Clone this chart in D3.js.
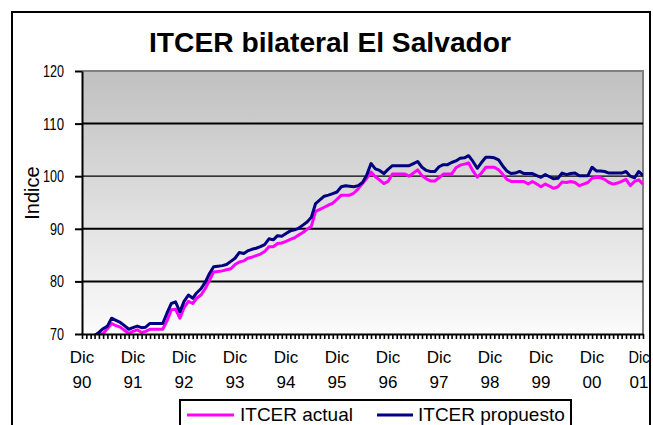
<!DOCTYPE html>
<html>
<head>
<meta charset="utf-8">
<script src="https://cdn.jsdelivr.net/npm/d3@7"></script>
<style>
  html, body { margin: 0; padding: 0; background: #fff; }
  svg { display: block; font-family: Arial, "Liberation Sans", sans-serif; }
</style>
</head>
<body>
<svg id="chart" width="653" height="425"></svg>
<script>
// Monthly series, Dec 1990 .. Dec 2001 (133 months)
const startYear = 1990, startMonth = 11; // December
const actual = [
  67.5, 68.0, 68.6, 69.2, 69.8, 70.1, 71.0, 72.0, 71.6, 71.3, 70.7, 70.1,
  70.5, 70.8, 70.3, 70.5, 70.9, 70.9, 70.9, 70.9, 72.5, 74.6, 74.7, 73.0,
  75.0, 76.2, 75.8, 76.8, 77.4, 78.6, 80.2, 81.8, 81.9, 82.0, 82.2, 82.4,
  83.2, 83.7, 83.9, 84.4, 84.6, 84.9, 85.2, 85.7, 86.6, 86.6, 87.2, 87.3,
  87.6, 88.0, 88.3, 88.8, 89.3, 89.9, 90.5, 93.3, 93.7, 94.1, 94.5, 94.9,
  95.6, 96.4, 96.4, 96.4, 96.8, 97.6, 98.6, 99.6, 100.8, 99.9, 99.3, 98.6,
  99.0, 100.4, 100.4, 100.4, 100.4, 100.0, 100.6, 101.2, 100.1, 99.5, 99.1, 99.1,
  99.7, 100.4, 100.4, 100.4, 101.6, 102.1, 102.3, 102.5, 101.0, 99.8, 100.6, 101.7,
  101.7, 101.7, 101.2, 100.4, 99.4, 99.0, 99.0, 99.0, 99.0, 98.5, 99.0, 98.5,
  98.0, 98.5, 98.1, 97.7, 98.0, 98.9, 98.8, 99.0, 98.8, 98.2, 98.5, 98.8,
  99.6, 99.8, 99.7, 99.4, 98.8, 98.5, 98.7, 99.0, 99.4, 98.2, 99.0, 99.3,
  98.5
];
const propuesto = [
  68.0, 68.6, 69.2, 69.7, 70.3, 71.0, 71.5, 73.0, 72.6, 72.2, 71.6, 70.9,
  71.2, 71.5, 71.2, 71.3, 72.0, 72.0, 72.0, 72.0, 74.0, 75.8, 76.1, 74.2,
  76.2, 77.4, 76.8, 77.8, 78.6, 79.8, 81.5, 82.8, 82.9, 83.0, 83.2, 83.8,
  84.4, 85.5, 85.3, 85.8, 86.1, 86.3, 86.6, 87.0, 88.1, 87.9, 88.7, 88.6,
  89.1, 89.6, 89.8, 90.1, 90.7, 91.3, 92.2, 94.8, 95.5, 96.2, 96.4, 96.7,
  97.0, 98.0, 98.2, 98.1, 98.0, 98.2, 98.8, 100.2, 102.4, 101.4, 101.1, 100.5,
  101.3, 102.0, 102.0, 102.0, 102.0, 102.0, 102.4, 102.8, 101.7, 101.1, 100.9, 100.9,
  101.8, 102.2, 102.2, 102.6, 102.9, 103.4, 103.5, 103.9, 102.8, 101.5, 102.6, 103.6,
  103.6, 103.5, 103.1, 102.0, 101.0, 100.5, 100.6, 100.9, 100.5, 100.5, 100.5, 100.1,
  99.8, 100.3, 99.9, 99.5, 99.6, 100.6, 100.3, 100.5, 100.6, 100.1, 100.1, 100.1,
  101.7, 101.0, 101.0, 100.9, 100.6, 100.6, 100.6, 100.6, 100.9, 100.0, 99.7, 100.9,
  100.1
];
const yTicks = [70, 80, 90, 100, 110, 120];
const yearLabels = ["90", "91", "92", "93", "94", "95", "96", "97", "98", "99", "00", "01"];
const seriesNames = ["ITCER actual", "ITCER propuesto"];
const seriesColors = ["#ff00ff", "#000080"];

const svg = d3.select("#chart");
const plot = { left: 82, top: 71, right: 643, bottom: 334 };

const months = actual.map((_, i) => new Date(startYear, startMonth + i, 1));
const x = d3.scaleTime()
  .domain([months[0], months[months.length - 1]])
  .range([plot.left, plot.right]);
const y = d3.scaleLinear().domain([70, 120]).range([plot.bottom, plot.top]);

// outer frame
svg.append("rect")
  .attr("x", 12).attr("y", 12).attr("width", 638).attr("height", 440)
  .attr("fill", "none").attr("stroke", "#000").attr("stroke-width", 2);

// title
svg.append("text")
  .attr("x", 330).attr("y", 52)
  .attr("text-anchor", "middle")
  .attr("font-size", 27).attr("font-weight", "bold")
  .attr("textLength", 362).attr("lengthAdjust", "spacingAndGlyphs")
  .text("ITCER bilateral El Salvador");

// plot background gradient
const defs = svg.append("defs");
const grad = defs.append("linearGradient").attr("id", "bg")
  .attr("x1", 0).attr("y1", 0).attr("x2", 0).attr("y2", 1);
grad.append("stop").attr("offset", "0%").attr("stop-color", "#c0c0c0");
grad.append("stop").attr("offset", "100%").attr("stop-color", "#fbfbfb");
defs.append("clipPath").attr("id", "clip").append("rect")
  .attr("x", plot.left).attr("y", plot.top)
  .attr("width", plot.right - plot.left).attr("height", plot.bottom - plot.top);

svg.append("rect")
  .attr("x", plot.left).attr("y", plot.top)
  .attr("width", plot.right - plot.left).attr("height", plot.bottom - plot.top)
  .attr("fill", "url(#bg)");

// plot border (top and right)
svg.append("path")
  .attr("d", `M${plot.left},${plot.top}H${plot.right}V${plot.bottom}`)
  .attr("fill", "none").attr("stroke", "#808080").attr("stroke-width", 2);

// gridlines
svg.append("g").selectAll("line")
  .data(yTicks.filter(t => t > 70 && t < 120))
  .join("line")
  .attr("x1", plot.left).attr("x2", plot.right)
  .attr("y1", d => y(d)).attr("y2", d => y(d))
  .attr("stroke", "#000")
  .attr("stroke-width", d => d === 100 ? 1.2 : 2);

// series lines
const line = d3.line().x((d, i) => x(months[i])).y(d => y(d));
const lines = svg.append("g").attr("clip-path", "url(#clip)");
[actual, propuesto].forEach((s, k) => {
  lines.append("path")
    .datum(s)
    .attr("d", line)
    .attr("fill", "none")
    .attr("stroke", seriesColors[k])
    .attr("stroke-width", 3)
    .attr("stroke-linejoin", "round");
});

// y axis
const yAxis = svg.append("g")
  .attr("transform", `translate(${plot.left},0)`)
  .call(d3.axisLeft(y).tickValues(yTicks).tickSize(7).tickPadding(11).tickSizeOuter(0));
yAxis.select(".domain").attr("stroke", "#000").attr("stroke-width", 2);
yAxis.selectAll(".tick line").attr("stroke", "#000").attr("stroke-width", 2);
yAxis.selectAll(".tick text")
  .attr("font-size", 17)
  .attr("font-family", "Arial, 'Liberation Sans', sans-serif")
  .attr("textLength", d => String(d).length * 7)
  .attr("lengthAdjust", "spacingAndGlyphs")
  .attr("fill", "#000");

// x axis: monthly ticks
const xAxis = svg.append("g")
  .attr("transform", `translate(0,${plot.bottom})`)
  .call(d3.axisBottom(x).tickValues(months).tickSize(5).tickFormat("").tickSizeOuter(0));
xAxis.select(".domain").attr("stroke", "#000").attr("stroke-width", 2);
xAxis.selectAll(".tick line").attr("stroke", "#000").attr("stroke-width", 1.6);

// December labels, two lines; the last one is kept inside the frame
const decs = months.filter(d => d.getMonth() === 11);
const lab = svg.append("g").selectAll("g").data(decs).join("g")
  .attr("transform", d => `translate(${Math.min(x(d), 639)},0)`)
  .attr("font-size", 17).attr("text-anchor", "middle");
lab.append("text").attr("y", 363)
  .attr("textLength", (d, i) => i === decs.length - 1 ? 21 : null)
  .attr("lengthAdjust", "spacingAndGlyphs")
  .text("Dic");
lab.append("text").attr("y", 388).text((d, i) => yearLabels[i]);

// y axis title
svg.append("text")
  .attr("transform", "translate(39,193) rotate(-90)")
  .attr("text-anchor", "middle")
  .attr("font-size", 20)
  .text("Indice");

// legend
const leg = svg.append("g");
leg.append("rect")
  .attr("x", 180).attr("y", 400).attr("width", 391).attr("height", 60)
  .attr("fill", "#fff").attr("stroke", "#000").attr("stroke-width", 2);
const legLine = [[187, 234], [377, 413]];
const legText = [240, 418];
seriesNames.forEach((n, k) => {
  leg.append("line")
    .attr("x1", legLine[k][0]).attr("x2", legLine[k][1])
    .attr("y1", 415).attr("y2", 415)
    .attr("stroke", seriesColors[k]).attr("stroke-width", 3);
  leg.append("text")
    .attr("x", legText[k]).attr("y", 421)
    .attr("font-size", 19)
    .text(n);
});
</script>
</body>
</html>
